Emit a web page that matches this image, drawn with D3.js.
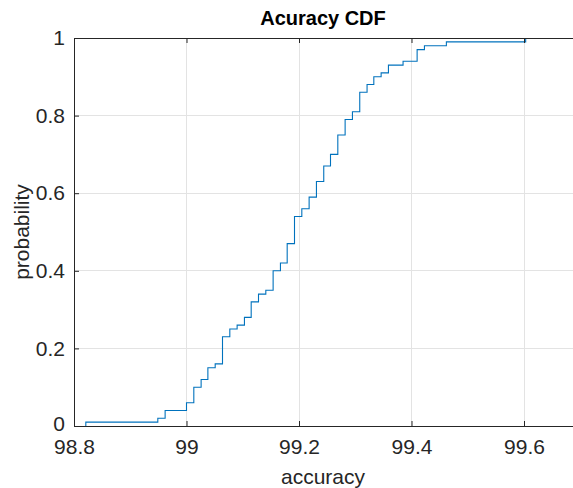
<!DOCTYPE html>
<html>
<head>
<meta charset="utf-8">
<script src="https://cdn.jsdelivr.net/npm/d3@7"></script>
<style>
  html, body { margin: 0; padding: 0; background: #fff; }
  svg { display: block; font-family: "Liberation Sans", Arial, Helvetica, sans-serif; }
</style>
</head>
<body>
<svg id="chart" width="573" height="488"></svg>
<script>
// Empirical CDF of the accuracy runs: the accuracy (%) at each jump
// and the cumulative probability reached after that jump.
const stepAccuracy = [
  98.821, 98.949, 98.962, 99.000, 99.013, 99.026, 99.038, 99.051, 99.064, 99.077,
  99.090, 99.103, 99.115, 99.128, 99.141, 99.154, 99.167, 99.179, 99.192, 99.205,
  99.218, 99.231, 99.244, 99.256, 99.269, 99.282, 99.295, 99.308, 99.321, 99.333,
  99.346, 99.359, 99.385, 99.410, 99.423, 99.462, 99.603
];
const stepProbability = [
  0.01, 0.02, 0.04, 0.06, 0.10, 0.12, 0.15, 0.16, 0.23, 0.25,
  0.26, 0.28, 0.32, 0.34, 0.35, 0.40, 0.42, 0.47, 0.54, 0.56,
  0.59, 0.63, 0.67, 0.70, 0.75, 0.79, 0.81, 0.86, 0.88, 0.90,
  0.91, 0.93, 0.94, 0.97, 0.98, 0.99, 1.00
];
const xTicks = [98.8, 99, 99.2, 99.4, 99.6];
const xTickLabels = ["98.8", "99", "99.2", "99.4", "99.6"];
const yTicks = [0, 0.2, 0.4, 0.6, 0.8, 1];
const yTickLabels = ["0", "0.2", "0.4", "0.6", "0.8", "1"];
const xDomain = [98.8, 99.7];

const svg = d3.select("#chart");
const mLeft = 74, mTop = 38, mBottom = 426;
const x = d3.scaleLinear().domain(xDomain).range([mLeft, mLeft + 0.9 / 0.2 * 112.5]);
const y = d3.scaleLinear().domain([0, 1]).range([mBottom, mTop]);
const mRight = x(xDomain[1]);

const axisColor = "#262626";
const gridColor = "#e3e3e3";

// grid
const grid = svg.append("g");
grid.selectAll(".gx").data(xTicks).join("line")
  .attr("x1", d => x(d)).attr("x2", d => x(d))
  .attr("y1", mTop).attr("y2", mBottom)
  .attr("stroke", gridColor).attr("stroke-width", 1)
  .attr("shape-rendering", "crispEdges");
grid.selectAll(".gy").data(yTicks).join("line")
  .attr("x1", mLeft).attr("x2", mRight)
  .attr("y1", d => y(d)).attr("y2", d => y(d))
  .attr("stroke", gridColor).attr("stroke-width", 1)
  .attr("shape-rendering", "crispEdges");

// step line: rises from zero at the first jump, holds each level until the next jump
const pts = [[stepAccuracy[0], 0]];
stepAccuracy.forEach((a, i) => pts.push([a, stepProbability[i]]));
const line = d3.line().x(d => x(d[0])).y(d => y(d[1])).curve(d3.curveStepAfter);
svg.append("path")
  .attr("d", line(pts))
  .attr("fill", "none")
  .attr("stroke", "#0072BD")
  .attr("stroke-width", 1.1);

// axes with inward ticks
const fmtX = d => xTickLabels[xTicks.indexOf(d)];
const fmtY = d => yTickLabels[yTicks.indexOf(d)];

const xAxis = svg.append("g").attr("transform", `translate(0,${mBottom})`)
  .call(d3.axisBottom(x).tickValues(xTicks).tickFormat(fmtX).tickSizeInner(-5).tickSizeOuter(0).tickPadding(13));
const xTop = svg.append("g").attr("transform", `translate(0,${mTop})`)
  .call(d3.axisTop(x).tickValues(xTicks).tickFormat("").tickSizeInner(-5).tickSizeOuter(0));
const yAxis = svg.append("g").attr("transform", `translate(${mLeft},0)`)
  .call(d3.axisLeft(y).tickValues(yTicks).tickFormat(fmtY).tickSizeInner(-5).tickSizeOuter(0).tickPadding(9));

[xAxis, xTop, yAxis].forEach(g => {
  g.select(".domain").attr("stroke", axisColor).attr("stroke-width", 1);
  g.selectAll(".tick line").attr("stroke", axisColor).attr("stroke-width", 1);
  g.selectAll(".tick text").attr("fill", axisColor)
    .style("font-size", "21px");
});
// the lowest y label sits a touch higher so it clears the first x label
yAxis.selectAll(".tick text").filter(d => d === 0).attr("dy", "0.22em");

// title and axis labels
svg.append("text")
  .attr("x", (mLeft + 572) / 2).attr("y", 25)
  .attr("text-anchor", "middle")
  .style("font-size", "20px").style("font-weight", "bold")
  .attr("fill", "#000")
  .text("Acuracy CDF");

svg.append("text")
  .attr("x", (mLeft + 572) / 2).attr("y", 484)
  .attr("text-anchor", "middle")
  .style("font-size", "21px")
  .attr("fill", axisColor)
  .text("accuracy");

svg.append("text")
  .attr("transform", `translate(29,${(mTop + mBottom) / 2}) rotate(-90)`)
  .attr("text-anchor", "middle")
  .style("font-size", "21px")
  .attr("fill", axisColor)
  .text("probability");
</script>
</body>
</html>
